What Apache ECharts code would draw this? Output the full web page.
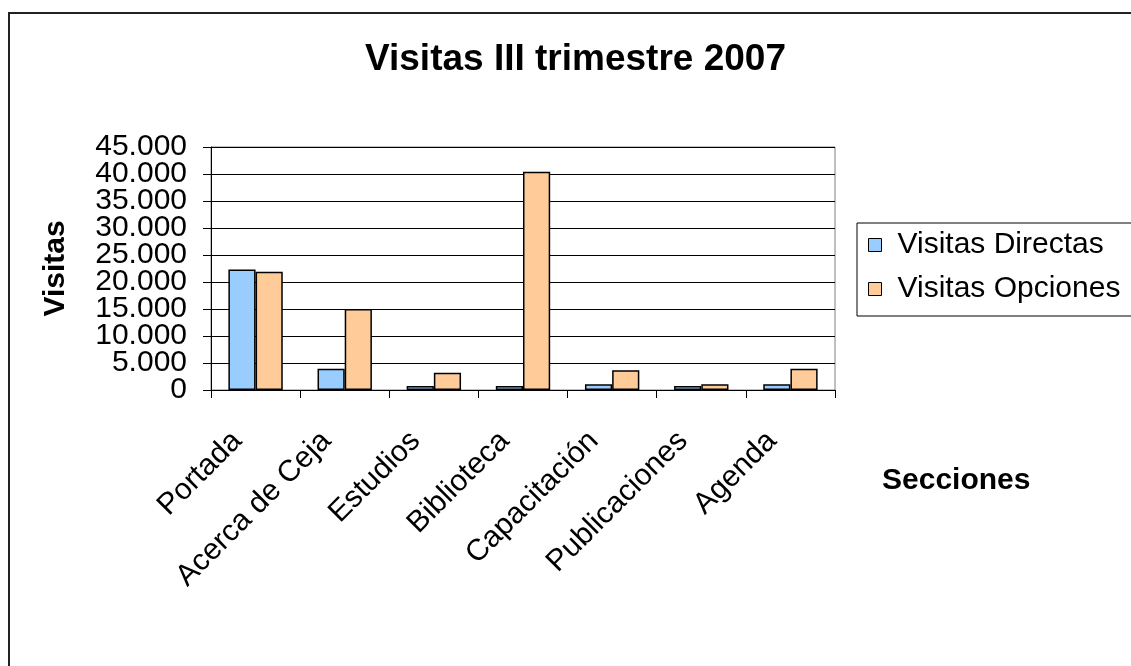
<!DOCTYPE html>
<html>
<head>
<meta charset="utf-8">
<script src="https://cdn.jsdelivr.net/npm/echarts@6/dist/echarts.min.js"></script>
<style>html,body{margin:0;padding:0;background:#fff;}#c{width:1131px;height:666px;}</style>
</head>
<body>
<div id="c"></div>
<script>
const categories = ['Portada', 'Acerca de Ceja', 'Estudios', 'Biblioteca', 'Capacitación', 'Publicaciones', 'Agenda'];
const visitasDirectas = [22300, 3950, 740, 740, 1050, 740, 1050];
const visitasOpciones = [21900, 15000, 3200, 40400, 3650, 1050, 3950];
const seriesNames = ['Visitas Directas', 'Visitas Opciones'];
const titleText = 'Visitas III trimestre 2007';
// ticks drawn by a second (label-only) axis so that no neighbouring label gets auto-hidden
const secondAxisTicks = [5000, 40000];

const FONT = '"Liberation Sans", Arial, sans-serif';
const fmt = v => v === 0 ? '0' : v.toLocaleString('de-DE');
const chart = echarts.init(document.getElementById('c'), null, {renderer: 'canvas'});
chart.setOption({
  backgroundColor: '#fff',
  animation: false,
  textStyle: {fontFamily: FONT, color: '#000'},
  title: {
    text: titleText, left: 360, top: 36,
    textStyle: {fontFamily: FONT, fontSize: 37, fontWeight: 'bold', color: '#000'}
  },
  legend: {
    orient: 'vertical', left: 857, top: 223,
    borderColor: '#000', borderWidth: 1,
    padding: [7, 30, 12, 11], itemGap: 14,
    itemWidth: 13, itemHeight: 13, icon: 'rect',
    itemStyle: {borderColor: '#000', borderWidth: 1},
    textStyle: {fontFamily: FONT, fontSize: 30, color: '#000', padding: [0, 0, 0, 11]},
    data: seriesNames
  },
  grid: {
    left: 211, top: 147, right: 296, bottom: 276,
    show: true, borderColor: '#808080', borderWidth: 1, backgroundColor: 'transparent'
  },
  xAxis: {
    type: 'category', data: categories,
    name: 'Secciones', nameLocation: 'end', nameGap: 47,
    nameTextStyle: {fontFamily: FONT, fontSize: 30, fontWeight: 'bold', color: '#000', verticalAlign: 'top', padding: [76, 0, 0, 0]},
    axisLine: {lineStyle: {color: '#000', width: 1}},
    axisTick: {show: true, alignWithLabel: false, length: 8, lineStyle: {color: '#000'}},
    axisLabel: {interval: 0, rotate: 45, margin: 28, padding: [0, 26, 0, 0], fontFamily: FONT, fontSize: 30, color: '#000'}
  },
  yAxis: [{
    type: 'value', min: 0, max: 45000, interval: 5000,
    name: 'Visitas', nameLocation: 'middle', nameGap: 140,
    nameTextStyle: {fontFamily: FONT, fontSize: 30, fontWeight: 'bold', color: '#000'},
    axisLine: {show: true, lineStyle: {color: '#000', width: 1}},
    axisTick: {show: true, length: 8, lineStyle: {color: '#000'}},
    axisLabel: {
      margin: 24, color: '#000', fontFamily: FONT, fontSize: 30,
      showMinLabel: true, showMaxLabel: true, hideOverlap: false,
      formatter: v => secondAxisTicks.includes(v) ? '' : fmt(v)
    },
    splitLine: {show: true, lineStyle: {color: '#000', width: 1}}
  }, {
    type: 'value', min: 0, max: 45000, interval: 5000, position: 'left', offset: 0,
    axisLine: {show: false}, axisTick: {show: false}, splitLine: {show: false},
    axisLabel: {
      margin: 24, color: '#000', fontFamily: FONT, fontSize: 30,
      showMinLabel: false, showMaxLabel: false, hideOverlap: false,
      formatter: v => secondAxisTicks.includes(v) ? fmt(v) : ''
    }
  }],
  series: [
    {name: seriesNames[0], type: 'bar', data: visitasDirectas, barGap: '0%', barCategoryGap: '39%',
     itemStyle: {color: '#99CCFF', borderColor: '#000', borderWidth: 1.5}},
    {name: seriesNames[1], type: 'bar', data: visitasOpciones, barGap: '0%', barCategoryGap: '39%',
     itemStyle: {color: '#FFCC99', borderColor: '#000', borderWidth: 1.5}}
  ],
  graphic: [{
    type: 'rect', silent: true, z: 100,
    shape: {x: 9, y: 13, width: 1200, height: 700},
    style: {fill: 'none', stroke: '#222', lineWidth: 2}
  }]
});
</script>
</body>
</html>
